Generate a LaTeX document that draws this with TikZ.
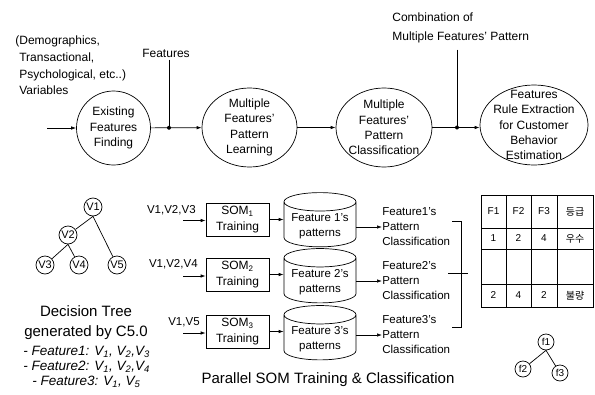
\documentclass[tikz,border=0pt]{standalone}
\usepackage{fontspec}
\setmainfont{Liberation Sans}
\newfontfamily\krfont{Noto Sans CJK KR}
\usetikzlibrary{shapes,arrows.meta}

\begin{document}
\begin{tikzpicture}[x=1pt,y=-1pt,>={Latex[length=5pt,width=3.5pt]},line width=0.7pt]
    \tikzstyle{every node}=[font=\fontsize{12}{15.3}\selectfont,inner sep=0pt]
    \tikzstyle{stage}=[ellipse,draw,align=center,inner xsep=-12pt,inner ysep=-8pt]
    \tikzstyle{som}=[rectangle,draw,align=center,minimum width=63pt,minimum height=33pt,font=\fontsize{12}{15.5}\selectfont]
    \tikzstyle{store}=[cylinder,shape border rotate=90,aspect=0.3,draw,align=center,inner sep=2pt,minimum width=72pt,minimum height=50pt,font=\fontsize{11.5}{15}\selectfont]
    \tikzstyle{midtext}=[font=\fontsize{11.5}{15}\selectfont]
    \tikzstyle{var}=[circle,draw,minimum size=18pt,font=\fontsize{11}{11}\selectfont]
    \tikzstyle{cell}=[font=\fontsize{10}{10}\selectfont]
    \tikzstyle{joint}=[circle,fill,minimum size=4pt]

    \useasboundingbox (0,0) rectangle (595,394);

    \node[align=left,font=\fontsize{12}{16.8}\selectfont,anchor=west] (vars) at (19,65.5) {\llap{(}Demographics,\\Transactional,\\Psychological, etc..)\\Variables};
    \coordinate (in) at (47,128);
    \node[circle,draw,align=center,minimum size=74pt] (find) at (113.5,128) {Existing\\Features\\Finding};
    \node[stage,minimum width=95pt,minimum height=79pt] (learn) at (249.5,127.5) {Multiple\\Features'\\Pattern\\Learning};
    \node[stage,minimum width=96pt,minimum height=79pt] (class) at (384,127.5) {Multiple\\Features'\\Pattern\\Classification};
    \node[stage,minimum width=108pt,minimum height=80pt] (rule) at (534,125) {Features\\Rule Extraction\\for Customer\\Behavior\\Estimation};
    \draw[->] (in) -- (find);
    \draw[->] (find) -- (learn);
    \draw[->] (learn) -- (class);
    \draw[->] (class.east) -- (rule.west |- class.east);

    \node (featlab) at (166,53) {Features};
    \coordinate (j1) at (169,127.75);
    \draw[shorten <=2pt] (j1 |- featlab.south) -- (j1);
    \node[joint] (dot1) at (j1) {};
    \node[anchor=west,align=left] (comb) at (392,28) {Combination of\\[4pt]Multiple Features' Pattern};
    \coordinate (j2) at (457,127.5);
    \draw[shorten <=6pt] (j2 |- comb.south) -- (j2);
    \node[joint] (dot2) at (j2) {};

    \node[var] (V1) at (93,207) {V1};
    \node[var] (V2) at (68,235) {V2};
    \node[var] (V3) at (45,265) {V3};
    \node[var] (V4) at (79,265) {V4};
    \node[var] (V5) at (117,265) {V5};
    \draw (V1.south) -- (V2);
    \draw (V1.south) -- (V5);
    \draw (V2.south) -- (V3);
    \draw (V2.south) -- (V4);
    \node[font=\fontsize{15}{20}\selectfont,align=center] (dtree) at (86,323) {Decision Tree\\generated by C5.0};
    \node[font=\fontsize{13.5}{15}\selectfont\itshape,anchor=west] (rule1) at (23,352) {- Feature1: V\textsubscript{1}, V\textsubscript{2},V\textsubscript{3}};
    \node[font=\fontsize{13.5}{15}\selectfont\itshape,anchor=west] (rule2) at (23,367) {- Feature2: V\textsubscript{1}, V\textsubscript{2},V\textsubscript{4}};
    \node[font=\fontsize{13.5}{15}\selectfont\itshape,anchor=west] (rule3) at (32,382) {- Feature3: V\textsubscript{1}, V\textsubscript{5}};

    \node[midtext,anchor=east] (in1lab) at (196,210) {V1,V2,V3};
    \node[midtext,anchor=east] (in2lab) at (198,264) {V1,V2,V4};
    \node[midtext,anchor=east] (in3lab) at (200,322) {V1,V5};
    \coordinate (in1) at (183,220.5);
    \coordinate (in2) at (183,276);
    \coordinate (in3) at (183,333);
    \node[som] (som1) at (237.5,219.5) {SOM\textsubscript{1}\\Training};
    \node[som] (som2) at (237.5,274.5) {SOM\textsubscript{2}\\Training};
    \node[som] (som3) at (237.5,331.5) {SOM\textsubscript{3}\\Training};
    \draw[->] (in1) -- (som1.west |- in1);
    \draw[->] (in2) -- (som2.west |- in2);
    \draw[->] (in3) -- (som3.west |- in3);
    \node[store] (cyl1) at (320,226) {Feature 1's\\patterns};
    \node[store] (cyl2) at (320,282) {Feature 2's\\patterns};
    \node[store] (cyl3) at (320,339) {Feature 3's\\patterns};
    \draw[->] (som1.east) -- (som1.east -| cyl1.west);
    \draw[->] (som2.east) -- (som2.east -| cyl2.west);
    \draw[->] (som3.east) -- (som3.east -| cyl3.west);
    \node[midtext,align=left,anchor=west] (cls1) at (382,227) {Feature1's\\Pattern\\Classification};
    \node[midtext,align=left,anchor=west] (cls2) at (382,281) {Feature2's\\Pattern\\Classification};
    \node[midtext,align=left,anchor=west] (cls3) at (382,335) {Feature3's\\Pattern\\Classification};
    \draw[->] (cyl1.east |- cls1.west) -- (cls1.west);
    \draw[->] (cyl2.east |- cls2.west) -- (cls2.west);
    \draw[->] (cyl3.east |- cls3.west) -- (cls3.west);
    \coordinate (brtop) at (452,221);
    \coordinate (brbot) at (452,327);
    \coordinate (brmid) at (461,273);
    \draw (brtop) -- ++(9,0) |- (brbot);
    \draw ([xshift=-13pt]brmid) -- ([xshift=7pt]brmid);
    \node[font=\fontsize{15}{15}\selectfont] (caption) at (328,380) {Parallel SOM Training \& Classification};

    \draw (481,195) rectangle (593,307);
    \foreach \x in {506,531,557} \draw (\x,195) -- (\x,307);
    \foreach \y in {228,249,284} \draw (481,\y) -- (593,\y);
    \foreach \cx/\a/\b/\c [count=\i] in {493.5/F1/1/2,518.5/F2/2/4,544/F3/4/2} {
        \node[cell] (h\i) at (\cx,211.5) {\a};
        \node[cell] (r\i) at (\cx,238.5) {\b};
        \node[cell] (s\i) at (\cx,295.5) {\c};
    }
    \node[cell,font=\fontsize{10}{10}\selectfont\krfont] (h4) at (575,211.5) {등급};
    \node[cell,font=\fontsize{10}{10}\selectfont\krfont] (r4) at (575,238.5) {우수};
    \node[cell,font=\fontsize{10}{10}\selectfont\krfont] (s4) at (575,295.5) {불량};

    \node[var,minimum size=16pt,font=\fontsize{10}{10}\selectfont] (f1) at (546,342) {f1};
    \node[var,minimum size=16pt,font=\fontsize{10}{10}\selectfont] (f2) at (523,369) {f2};
    \node[var,minimum size=16pt,font=\fontsize{10}{10}\selectfont] (f3) at (560,373) {f3};
    \draw (f1.south) -- (f2);
    \draw (f1.south) -- (f3);
\end{tikzpicture}
\end{document}
